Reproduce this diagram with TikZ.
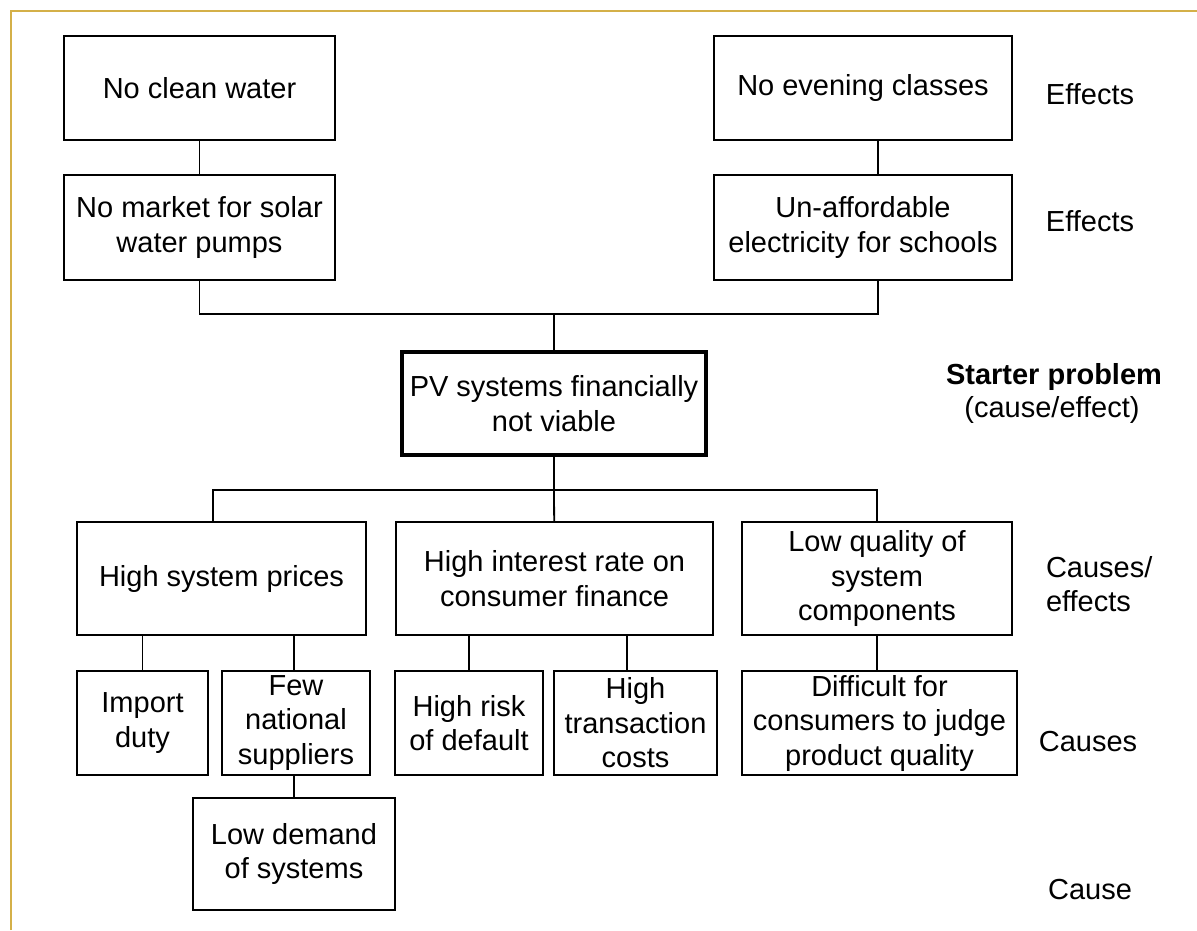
\documentclass[tikz,border=0pt]{standalone}
\usepackage{fontspec}
\setmainfont{Liberation Sans}
\usepackage{tikz}
\definecolor{framegold}{RGB}{212,176,72}

\begin{document}
\begin{tikzpicture}[x=1pt, y=-1pt]
\tikzset{ inner sep=0pt, outer sep=0pt,
  every node/.style={font=\fontsize{29}{34.5}\selectfont, align=center},
  box/.style={draw, line width=1.8pt, rectangle},
  link/.style={line width=1.8pt},
}

\useasboundingbox (0,0) rectangle (1197,930);
%\draw [lightgray, dashed](0,0) grid[step=50] (1197,930);

\draw [framegold, line width=2.5pt] (11,930) -- (11,11) -- (1197,11);

% effects
\node [box, minimum width=271pt, minimum height=104pt] (water)   at (199.5, 88.0) {No clean water};
\node [box, minimum width=298pt, minimum height=104pt] (evening) at (863.0, 88.0) {No evening classes};
\node [box, minimum width=271pt, minimum height=105pt] (market)  at (199.5,227.5) {No market for solar\\water pumps};
\node [box, minimum width=298pt, minimum height=105pt] (afford)  at (863.0,227.5) {Un-affordable\\electricity for schools};

% starter problem
\node [draw, line width=4pt, minimum width=304pt, minimum height=103pt] (pv) at (554.0,403.5) {PV systems financially\\not viable};

% causes/effects
\node [box, minimum width=289pt, minimum height=113pt] (prices)   at (221.5,578.5) {High system prices};
\node [box, minimum width=317pt, minimum height=113pt] (interest) at (554.5,578.5) {High interest rate on\\consumer finance};
\node [box, minimum width=270pt, minimum height=113pt] (quality)  at (877.0,578.5) {Low quality of\\system\\components};

% causes
\node [box, minimum width=131pt, minimum height=104pt] (import)   at (142.5,723.0) {Import\\duty};
\node [box, minimum width=148pt, minimum height=104pt] (few)      at (296.0,723.0) {Few\\national\\suppliers};
\node [box, minimum width=148pt, minimum height=104pt] (risk)     at (469.0,723.0) {High risk\\of default};
\node [box, minimum width=163pt, minimum height=104pt] (transact) at (635.5,723.0) {High\\transaction\\costs};
\node [box, minimum width=275pt, minimum height=104pt] (difficult) at (879.5,723.0) {Difficult for\\consumers to judge\\product quality};
\node [box, minimum width=202pt, minimum height=112pt] (demand)   at (294.0,854.0) {Low demand\\of systems};

% row labels
\node (lab1) at (1090, 94) {Effects};
\node (lab2) at (1090,221) {Effects};
\node (lab3) at (1054,377) {\textbf{Starter problem}};
\node (lab4) at (1052,410) {(cause/effect)};
\node [anchor=west, align=left] (lab5) at (1046,584) {Causes/\\effects};
\node (lab6) at (1088,742) {Causes};
\node (lab7) at (1090,890) {Cause};

\coordinate (topbus) at (554,314);
\coordinate (lowbus) at (554,490);

\draw [link] (water)--(market);
\draw [link] ([xshift=15pt]evening.south)--([xshift=15pt]afford.north);
\draw [link] (market.south) |- (topbus) -| ([xshift=15pt]afford.south);
\draw [link] (topbus)--(pv);

\draw [link] (pv)--(lowbus);
\draw [link] ([xshift=-8.5pt]prices.north) |- (lowbus) -| (quality.north);
\draw [link] (lowbus)--(interest);

\draw [link] (import.north)--(import.north |- prices.south);
\draw [link] ([xshift=-2pt]few.north)--([xshift=-2pt]few.north |- prices.south);
\draw [link] (risk.north)--(risk.north |- interest.south);
\draw [link] ([xshift=-8.5pt]transact.north)--([xshift=-8.5pt]transact.north |- interest.south);
\draw [link] (quality.south)--(quality.south |- difficult.north);
\draw [link] (demand.north)--(demand.north |- few.south);

\end{tikzpicture}
\end{document}
